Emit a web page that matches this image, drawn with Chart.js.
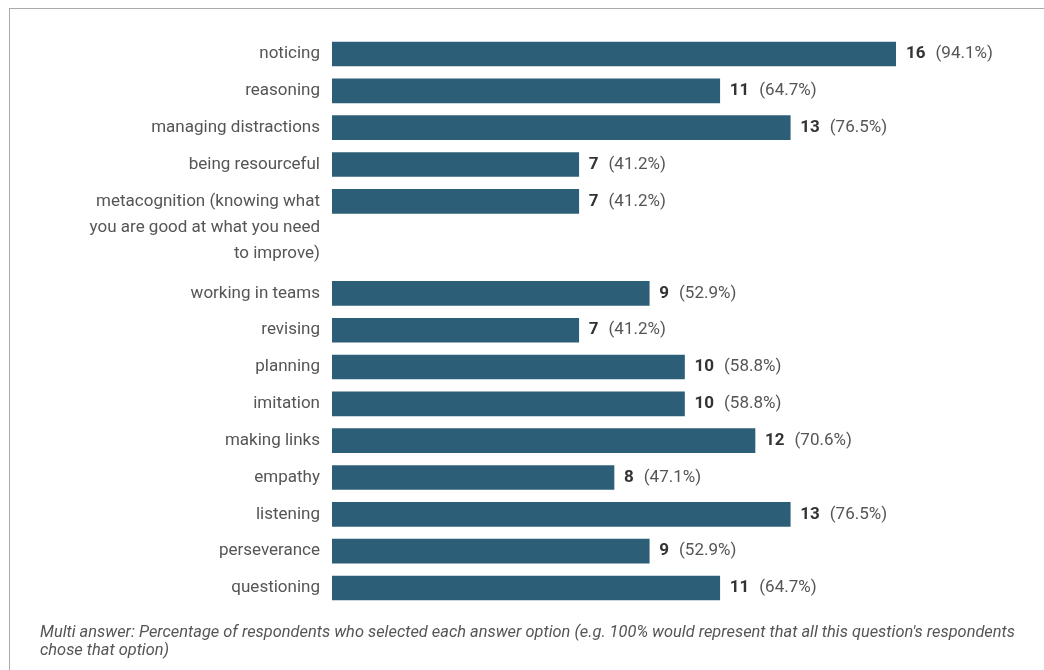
<!DOCTYPE html>
<html lang="en">
<head>
  <meta charset="UTF-8">
  <title>Skills survey</title>
  <script src="https://cdn.jsdelivr.net/npm/chart.js"></script>
  <style>
    body {
      margin: 0;
      background: #fff;
      font-family: Roboto, sans-serif;
      overflow: hidden;
    }
    .frame {
      position: absolute;
      left: 9px;
      top: 8px;
      width: 1100px;
      height: 700px;
      border-top: 1px solid #aaa;
      border-left: 1px solid #aaa;
    }
    .wrap {
      position: absolute;
      left: 0;
      top: 0;
      width: 1044px;
      height: 670px;
    }
    .note {
      position: absolute;
      left: 40px;
      top: 623px;
      width: 990px;
      font-size: 16.4px;
      line-height: 18px;
      font-style: italic;
      color: #555;
    }
  </style>
</head>
<body>
  <div class="frame"></div>
  <div class="wrap"><canvas id="chart"></canvas></div>
  <div class="note">Multi answer: Percentage of respondents who selected each answer option (e.g. 100% would represent that all this question's respondents chose that option)</div>

  <script>
    const skills = [
      ["noticing"],
      ["reasoning"],
      ["managing distractions"],
      ["being resourceful"],
      ["metacognition (knowing what", "you are good at what you need", "to improve)"],
      ["working in teams"],
      ["revising"],
      ["planning"],
      ["imitation"],
      ["making links"],
      ["empathy"],
      ["listening"],
      ["perseverance"],
      ["questioning"]
    ];
    const counts = [16, 11, 13, 7, 7, 9, 7, 10, 10, 12, 8, 13, 9, 11];
    const percents = ["94.1%", "64.7%", "76.5%", "41.2%", "41.2%", "52.9%", "41.2%",
                      "58.8%", "58.8%", "70.6%", "47.1%", "76.5%", "52.9%", "64.7%"];

    // row slots: wrapped labels push the next row down
    const rows = [];
    skills.forEach((lines, i) => {
      if (i === 0) rows.push(0);
      else rows.push(rows[i - 1] + 1 + (skills[i - 1].length - 1) * 0.75);
    });

    const barColor = "#2c5f77";
    const lineH = 26;

    const labelPlugin = {
      id: "rowLabels",
      afterDatasetsDraw(chart) {
        const ctx = chart.ctx;
        const xs = chart.scales.x, ys = chart.scales.y;
        ctx.save();
        ctx.textBaseline = "middle";
        skills.forEach((lines, i) => {
          const y = ys.getPixelForValue(rows[i]);
          // category text, right aligned left of the bars
          ctx.textAlign = "right";
          ctx.font = "17px Roboto";
          ctx.fillStyle = "#555";
          lines.forEach((t, k) => ctx.fillText(t, xs.left - 12, y + k * lineH));
          // count in bold, then share
          let x = xs.getPixelForValue(counts[i]) + 10;
          ctx.textAlign = "left";
          ctx.font = "bold 17px Roboto";
          ctx.fillStyle = "#333";
          ctx.fillText(String(counts[i]), x, y);
          x += ctx.measureText(String(counts[i])).width + 10;
          ctx.font = "17px Roboto";
          ctx.fillStyle = "#555";
          ctx.fillText("(" + percents[i] + ")", x, y);
        });
        ctx.restore();
      }
    };

    new Chart(document.getElementById("chart"), {
      type: "bar",
      data: {
        datasets: [{
          data: counts.map((c, i) => ({ x: c, y: rows[i] })),
          backgroundColor: barColor,
          barThickness: 24,
          borderSkipped: false
        }]
      },
      options: {
        indexAxis: "y",
        responsive: true,
        maintainAspectRatio: false,
        animation: false,
        layout: { autoPadding: false, padding: { left: 332, right: 148, top: 35.6, bottom: 63.6 } },
        plugins: { legend: { display: false }, tooltip: { enabled: false } },
        scales: {
          x: { type: "linear", min: 0, max: 16, display: false, offset: false, grace: 0 },
          y: { type: "linear", min: -0.5, max: rows[rows.length - 1] + 0.5, reverse: true,
               display: false, offset: false, grace: 0 }
        }
      },
      plugins: [labelPlugin]
    });
  </script>
</body>
</html>
